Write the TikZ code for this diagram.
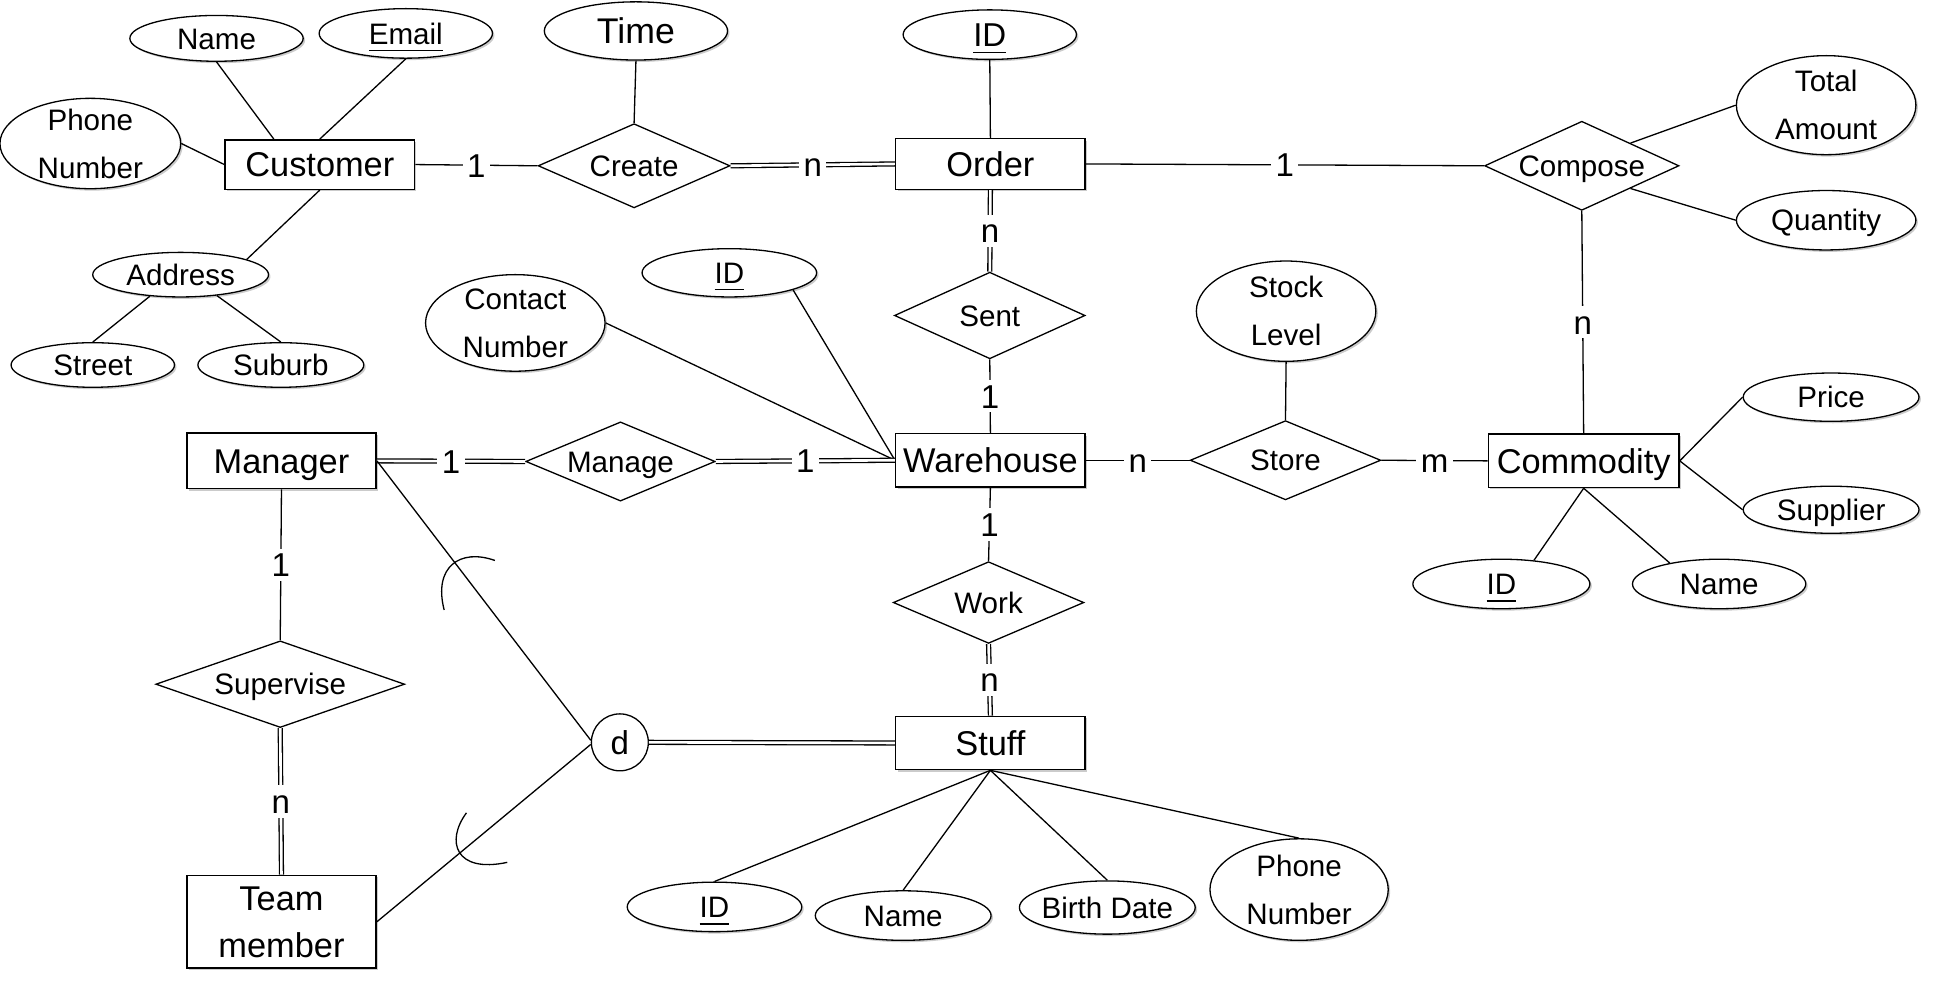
\documentclass[tikz,border=0pt]{standalone}
\usepackage{fontspec}
\setmainfont{Liberation Sans}
\usetikzlibrary{shapes.geometric,shadows}
\tikzset{
  ent/.style={draw,fill=white,line width=.35pt,minimum width=1.53cm,minimum height=.43cm,
              inner sep=0pt,align=center,font=\fontsize{7.9}{11}\selectfont,
              text height=5.66pt,text depth=0pt,
              drop shadow={shadow xshift=.45pt,shadow yshift=-.45pt,fill=black!45,opacity=.45}},
  att/.style={ellipse,draw,fill=white,line width=.3pt,inner xsep=-3pt,inner ysep=-2pt,
              align=center,font=\fontsize{6.8}{11}\selectfont,
              text height=4.9pt,text depth=0pt,
              drop shadow={shadow xshift=.45pt,shadow yshift=-.45pt,fill=black!45,opacity=.45}},
  two/.style={text height=15.9pt},
  rel/.style={diamond,draw,fill=white,line width=.3pt,inner sep=0pt,aspect=2.3,
              font=\fontsize{6.8}{8}\selectfont,text height=4.9pt,text depth=0pt},
  lnk/.style={line width=.3pt},
  dln/.style={double,double distance=.6pt,line width=.3pt},
  card/.style={fill=white,inner sep=1pt,font=\fontsize{7.6}{9}\selectfont,
               text height=5.44pt,text depth=0pt},
  big/.style={font=\fontsize{7.6}{9}\selectfont,text height=5.44pt},
}
\begin{document}
\begin{tikzpicture}[x=0.01cm,y=-0.01cm]
  \useasboundingbox (0,0) rectangle (1568,812);
  % customer side
  \node[att,minimum width=1.40cm,minimum height=.37cm] (name) at (175,31) {Name};
  \node[att,minimum width=1.40cm,minimum height=.40cm] (email) at (328,27) {\underline{Email}};
  \node[att,two,minimum width=1.46cm,minimum height=.73cm] (phone) at (73,116) {Phone\\Number};
  \node[ent,minimum height=.40cm] (cust) at (258.5,133) {Customer};
  \node[att,minimum width=1.42cm,minimum height=.36cm] (addr) at (146,222) {Address};
  \node[att,minimum width=1.32cm,minimum height=.36cm] (street) at (75,295) {Street};
  \node[att,minimum width=1.34cm,minimum height=.36cm] (suburb) at (227,295) {Suburb};
  \node[att,minimum width=1.48cm,minimum height=.47cm,font=\fontsize{8.2}{9}\selectfont,text height=5.87pt] (time) at (514,25) {Time};
  \node[rel,minimum width=1.55cm,minimum height=.68cm] (create) at (512.5,134) {Create};
  % order and compose
  \node[ent,minimum height=.41cm] (order) at (800.5,132.5) {Order};
  \node[att,big,minimum width=1.40cm,minimum height=.40cm] (oid) at (800,28) {\underline{ID}};
  \node[rel,minimum width=1.57cm,minimum height=.72cm] (comp) at (1278.5,134) {Compose};
  \node[att,two,minimum width=1.45cm,minimum height=.80cm] (total) at (1476,85) {Total\\Amount};
  \node[att,minimum width=1.45cm,minimum height=.48cm] (qty) at (1476,178) {Quantity};
  \node[rel,minimum width=1.54cm,minimum height=.70cm] (sent) at (800,255) {Sent};
  % warehouse row
  \node[att,two,minimum width=1.45cm,minimum height=.78cm] (contact) at (416.5,261) {Contact\\Number};
  \node[att,minimum width=1.41cm,minimum height=.39cm] (wid) at (589.5,220.5) {\underline{ID}};
  \node[att,two,minimum width=1.45cm,minimum height=.81cm] (stock) at (1039.5,251.5) {Stock\\Level};
  \node[ent,minimum height=.45cm] (mgr) at (227.5,372.5) {Manager};
  \node[rel,minimum width=1.53cm,minimum height=.64cm] (manage) at (501.5,373) {Manage};
  \node[ent] (wh) at (800.5,372) {Warehouse};
  \node[rel,minimum width=1.54cm,minimum height=.64cm] (store) at (1039,372) {Store};
  \node[ent,minimum width=1.54cm] (comm) at (1280,372.5) {Commodity};
  \node[att,minimum width=1.42cm,minimum height=.39cm] (price) at (1480,321) {Price};
  \node[att,minimum width=1.42cm,minimum height=.38cm] (supp) at (1480,412) {Supplier};
  \node[att,minimum width=1.43cm,minimum height=.40cm] (cid) at (1213.5,472) {\underline{ID}};
  \node[att,minimum width=1.40cm,minimum height=.40cm] (cname) at (1389.5,472) {Name};
  % staff part
  \node[rel,minimum width=1.54cm,minimum height=.66cm] (work) at (799,487) {Work};
  \node[rel,minimum width=2.01cm,minimum height=.70cm] (sup) at (226.5,553) {Supervise};
  \node[circle,draw,fill=white,line width=.3pt,minimum size=.46cm,inner sep=0pt,big] (dsj) at (501,600) {d};
  \node[ent] (stuff) at (800.5,600.5) {Stuff};
  \node[ent,minimum height=.75cm,text height=16.66pt] (team) at (227.5,745) {Team\\member};
  \node[att,minimum width=1.41cm,minimum height=.40cm] (sid) at (577.5,733) {\underline{ID}};
  \node[att,minimum width=1.42cm,minimum height=.40cm] (sname) at (730,740) {Name};
  \node[att,minimum width=1.42cm,minimum height=.43cm] (birth) at (895,733.5) {Birth Date};
  \node[att,two,minimum width=1.44cm,minimum height=.82cm] (sphone) at (1050,719) {Phone\\Number};

  \draw[lnk] (name.south) -- (cust.151);
  \draw[lnk] (email.south) -- (cust.north);
  \draw[lnk] (phone.east) -- (cust.west);
  \draw[lnk] (cust.south) -- (addr.13);
  \draw[lnk] (addr.215) -- (street.north);
  \draw[lnk] (addr.-30) -- (suburb.north);
  \draw[lnk] (time.south) -- (create.north);
  \draw[lnk] (cust.east) -- node[card]{1} (create.west);
  \draw[dln] (create.east) -- node[card]{n} (order.west);
  \draw[lnk] (oid.south) -- (order.north);
  \draw[lnk] (order.east) -- node[card]{1} (comp.west);
  \draw[lnk] (comp.25) -- (total.west);
  \draw[lnk] (comp.-25) -- (qty.west);
  \draw[lnk] (comp.south) -- node[card]{n} (comm.north);
  \draw[dln] (order.south) -- node[card]{n} (sent.north);
  \draw[lnk] (sent.south) -- node[card]{1} (wh.north);
  \draw[lnk] (contact.east) -- (wh.west);
  \draw[lnk] (wid.-15) -- (wh.west);
  \draw[dln] (mgr.east) -- node[card]{1} (manage.west);
  \draw[dln] (manage.east) -- node[card]{1} (wh.west);
  \draw[lnk] (wh.east) -- node[card]{n} (store.west);
  \draw[lnk] (store.east) -- node[card]{m} (comm.west);
  \draw[lnk] (stock.south) -- (store.north);
  \draw[lnk] (comm.east) -- (price.west);
  \draw[lnk] (comm.east) -- (supp.west);
  \draw[lnk] (comm.south) -- (cid.36);
  \draw[lnk] (comm.south) -- (cname.157);
  \draw[lnk] (wh.south) -- node[card]{1} (work.north);
  \draw[dln] (work.south) -- node[card]{n} (stuff.north);
  \draw[lnk] (mgr.south) -- node[card]{1} (sup.north);
  \draw[dln] (sup.south) -- node[card]{n} (team.north);
  \draw[dln] (dsj.east) -- (stuff.west);
  \draw[lnk] (mgr.east) -- (dsj.176);
  \draw[lnk] (team.east) -- (dsj.184);
  \draw[lnk] (stuff.south) -- (sid.north);
  \draw[lnk] (stuff.south) -- (sname.north);
  \draw[lnk] (stuff.south) -- (birth.north);
  \draw[lnk] (stuff.south) -- (sphone.north);
  % subset marks
  \draw[lnk] (400,453) .. controls (372,443) and (350,458) .. (359,493);
  \draw[lnk] (377,657) .. controls (360,680) and (368,706) .. (410,697);
\end{tikzpicture}
\end{document}
